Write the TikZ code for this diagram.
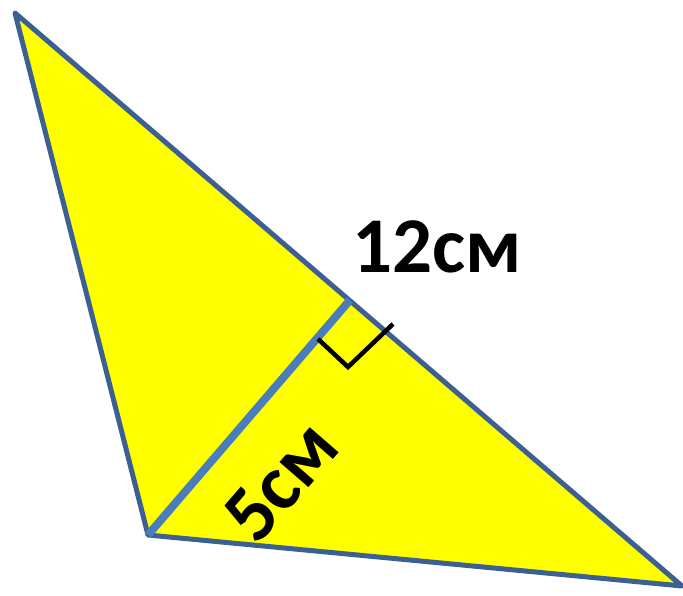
\documentclass[tikz,border=0pt]{standalone}
\usepackage{fontspec}
\setmainfont{Carlito}
\definecolor{outl}{RGB}{60,96,146}
\definecolor{alt}{RGB}{74,126,187}
\definecolor{fillY}{RGB}{255,255,0}
\tikzset{
  tri/.style={draw=outl, line width=5pt, fill=fillY, line join=round},
  altline/.style={draw=alt, line width=8pt},
  rmark/.style={draw=black, line width=4.5pt},
  lbl/.style={font=\fontsize{79}{82}\selectfont\bfseries, inner sep=0pt}
}
\begin{document}
\begin{tikzpicture}[x=1pt,y=-1pt]
\useasboundingbox (0,0) rectangle (683,596);
\coordinate (A) at (15,13);
\coordinate (B) at (148,535);
\coordinate (C) at (682,586);
\coordinate (F) at (350,300);
\coordinate (R1) at (318,339);
\coordinate (R2) at (348,367);
\coordinate (R3) at (393,324);
\path[tri] (A) -- (B) -- (C) -- cycle;
\draw[altline] (B) -- (F);
\draw[rmark] (R1) -- (R2) -- (R3);
\node[lbl] (l12) at (437,247) {12см};
\node[lbl, rotate=49] (l5) at (281,481) {5см};
\end{tikzpicture}
\end{document}
